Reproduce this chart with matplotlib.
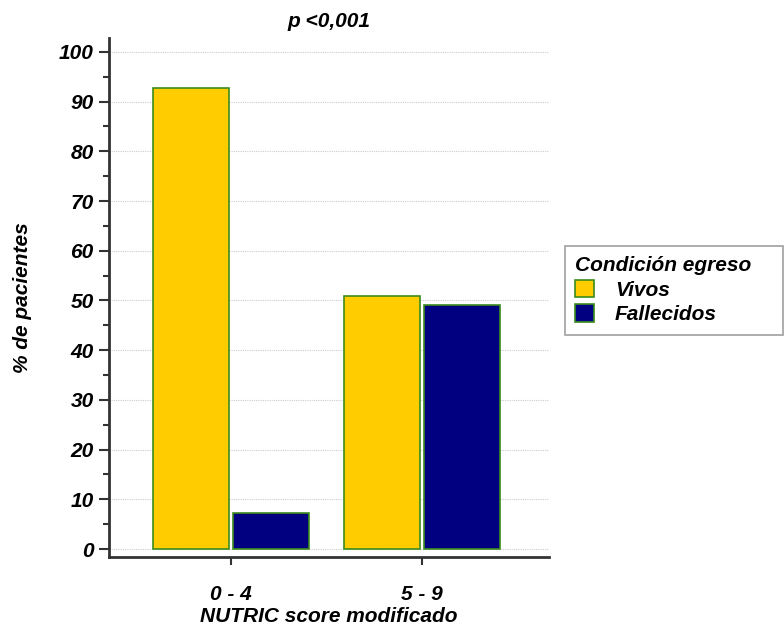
import numpy as np
import matplotlib.pyplot as plt
from matplotlib.ticker import MultipleLocator

plt.rcParams['font.family'] = ['Liberation Sans', 'DejaVu Sans']

categorias = ['0 - 4', '5 - 9']
vivos = [92.8, 50.9]
fallecidos = [7.2, 49.1]
series = ['Vivos', 'Fallecidos']

fs = 15
fig = plt.figure(figsize=(7.84, 6.28), dpi=100)
ax = fig.add_axes([109/784, 1 - 557/628, (549 - 109)/784, (557 - 38)/628])

x = np.arange(len(categorias))
w = 0.4
borde = '#3c8c1e'
ax.bar(x - w/2 - 0.01, vivos, w, color='#ffcc00', edgecolor=borde, linewidth=1.2, label=series[0], zorder=3)
ax.bar(x + w/2 + 0.01, fallecidos, w, color='#000080', edgecolor=borde, linewidth=1.2, label=series[1], zorder=3)

ax.set_xlim(-0.64, 1.665)
ax.set_ylim(-1.6, 102.8)
ax.set_xticks(x)
ax.set_xticklabels(categorias)
ax.yaxis.set_major_locator(MultipleLocator(10))
ax.yaxis.set_minor_locator(MultipleLocator(5))
ax.grid(axis='y', which='major', color='#cccccc', linestyle=(0, (1, 1)), linewidth=0.8, zorder=0)

for s in ['top', 'right']:
    ax.spines[s].set_visible(False)
for s in ['left', 'bottom']:
    ax.spines[s].set_color('#333333')
    ax.spines[s].set_linewidth(2)

ax.tick_params(axis='y', which='major', length=7, width=1.5, color='#333333', pad=4)
ax.tick_params(axis='y', which='minor', length=4, width=1.5, color='#333333')
ax.tick_params(axis='x', length=6, width=1.5, color='#333333', pad=14)
for lab in ax.get_xticklabels() + ax.get_yticklabels():
    lab.set_fontsize(fs)
    lab.set_fontweight('bold')
    lab.set_fontstyle('italic')

ax.set_xlabel('NUTRIC score modificado', fontsize=fs, fontweight='bold', fontstyle='italic', va='center')
ax.xaxis.set_label_coords(0.5, -(617 - 557) / 519)
ax.set_ylabel('% de pacientes', fontsize=fs, fontweight='bold', fontstyle='italic', labelpad=19)
ax.set_title('p <0,001', fontsize=fs, fontweight='bold', fontstyle='italic', pad=8)

leg = ax.legend(title='Condición egreso', loc='upper left',
                bbox_to_anchor=(565/784, 1 - 332/628, 218/784, 86/628), mode='expand',
                bbox_transform=fig.transFigure, frameon=True, fancybox=False, edgecolor='#888888',
                prop={'size': fs, 'weight': 'bold', 'style': 'italic'}, handlelength=0.9, handleheight=0.9,
                borderpad=0.5, labelspacing=0.22, handletextpad=1.0, borderaxespad=0)
leg.get_title().set_fontsize(fs)
leg.get_title().set_fontweight('bold')
leg.get_title().set_fontstyle('italic')
leg._legend_box.align = 'left'
leg.get_frame().set_linewidth(1.2)

fig.savefig('out.png', dpi=100)
